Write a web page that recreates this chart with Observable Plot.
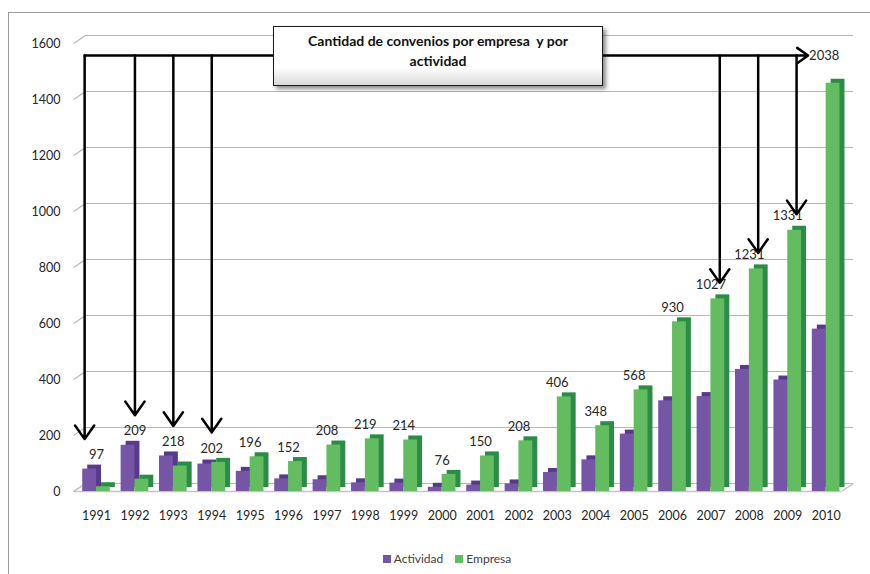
<!DOCTYPE html>
<html>
<head>
<meta charset="utf-8">
<script src="https://cdn.jsdelivr.net/npm/d3@7"></script>
<script src="https://cdn.jsdelivr.net/npm/@observablehq/plot@0.6"></script>
<style>
  html, body { margin: 0; padding: 0; background: #fff; }
  #wrap { position: relative; width: 870px; height: 574px; overflow: hidden; font-family: Lato, "Open Sans", sans-serif; }
  #frame { position: absolute; left: 8px; top: 12px; width: 880px; height: 620px; border: 1px solid #9a9a9a; box-sizing: border-box; }
  #chart { position: absolute; left: 0; top: 0; }
  #box { position: absolute; left: 273px; top: 26px; width: 330px; height: 60px; box-sizing: border-box;
         border: 1.5px solid #1a1a1a; background: linear-gradient(#ffffff 70%, #d9d9d9);
         box-shadow: 3px 3px 4px rgba(0,0,0,0.45); text-align: center;
         font-weight: bold; font-size: 14px; line-height: 20px; padding-top: 4px; color: #111; }
  #legend { position: absolute; left: 0; top: 551px; width: 894px; text-align: center; font-size: 12px; color: #404040; }
  #legend span.sw { display: inline-block; width: 8px; height: 8px; margin-right: 3px; vertical-align: 0px; }
  #legend span.item { margin: 0 6px; }
</style>
</head>
<body>
<div id="wrap">
  <div id="frame"></div>
  <div id="chart"></div>
  <div id="box">Cantidad de convenios por empresa&nbsp; y por<br>actividad</div>
  <div id="legend"></div>
</div>
<script>
const years = [1991,1992,1993,1994,1995,1996,1997,1998,1999,2000,2001,2002,2003,2004,2005,2006,2007,2008,2009,2010];
const actividad = [80,165,127,98,72,45,42,31,30,15,23,27,68,113,205,324,339,436,398,580];
const empresa = [17,44,91,104,124,107,166,188,184,61,127,181,338,235,363,606,688,795,933,1458];
const totals = [97,209,218,202,196,152,208,219,214,76,150,208,406,348,568,930,1027,1231,1331,2038];
const yTicks = [0,200,400,600,800,1000,1200,1400,1600];
const seriesNames = ["Actividad","Empresa"];
const arrowYears = [1991,1992,1993,1994,2007,2008,2009];
const annotationLevel = 1557;

const colors = {Actividad: "#7654a6", Empresa: "#63bd60"};
const sideColors = {Actividad: "#593a8a", Empresa: "#2a8c45"};

const rows = years.map((year, i) => ({year, actividad: actividad[i], empresa: empresa[i], total: totals[i],
  top: Math.max(actividad[i], empresa[i])}));
const yMax = yTicks[yTicks.length - 1];
const xMin = 1990.4, xMax = 2010.4;
const barW = 0.36;
const depthX = 0.3125, depthY = 28.6;
const grid = "#b8b8b8";
const arrowX = d => d.year + (d.year === arrowYears[0] ? -0.31 : d.year < 2000 ? 0 : 0.23);
const arrowStyle = {stroke: "#000", strokeWidth: 2.5, headLength: 10, headAngle: 70};

const plot = Plot.plot({
  width: 870,
  height: 545,
  marginLeft: 73,
  marginRight: 29,
  marginTop: 43,
  marginBottom: 54,
  style: {fontFamily: "Lato, 'Open Sans', sans-serif", fontSize: "12px", color: "#262626", background: "transparent"},
  x: {type: "linear", domain: [xMin, xMax]},
  y: {domain: [0, yMax]},
  marks: [
    // back-wall gridlines
    Plot.ruleY(yTicks, {dx: 12, dy: -8, stroke: grid, strokeWidth: 1.2}),
    // diagonal tick connectors
    Plot.link(yTicks, {x1: () => xMin, y1: d => d, x2: () => xMin + depthX, y2: d => d + depthY, stroke: grid, strokeWidth: 1.2}),
    // floor
    Plot.ruleY([0], {stroke: "#c4c4c4", strokeWidth: 1.6}),
    Plot.link([xMin, xMax], {x1: d => d, y1: 0, x2: d => d + depthX, y2: depthY, stroke: "#c4c4c4", strokeWidth: 1.4}),
    // Actividad bars (3D side/top then front)
    Plot.rectY(rows, {x1: d => d.year - barW, x2: d => d.year, y1: 0, y2: "actividad", fill: sideColors.Actividad, dx: 5, dy: -4}),
    Plot.rectY(rows, {x1: d => d.year - barW, x2: d => d.year, y1: 0, y2: "actividad", fill: colors.Actividad}),
    // Empresa bars
    Plot.rectY(rows, {x1: d => d.year, x2: d => d.year + barW, y1: 0, y2: "empresa", fill: sideColors.Empresa, dx: 5, dy: -4}),
    Plot.rectY(rows, {x1: d => d.year, x2: d => d.year + barW, y1: 0, y2: "empresa", fill: colors.Empresa}),
    // total labels
    Plot.text(rows.filter(d => d.total <= yMax), {x: "year", y: "top", text: d => String(d.total), dy: -14, fontSize: 13, fill: "#262626"}),
    Plot.text(rows.filter(d => d.total > yMax), {x: d => d.year - 0.47, y: () => annotationLevel, text: d => String(d.total), textAnchor: "start", dx: 1, fontSize: 13, fill: "#262626"}),
    // annotation arrows
    Plot.arrow(rows.filter(d => d.total > yMax), {x1: () => arrowYears[0] - 0.31, x2: d => d.year - 0.47, y1: () => annotationLevel, y2: () => annotationLevel, stroke: "#000", strokeWidth: 2.5, headLength: 8, headAngle: 70}),
    Plot.arrow(rows.filter(d => arrowYears.includes(d.year) && d.year < 2000), {
      x: arrowX, y1: () => annotationLevel, y2: "top", insetEnd: 30, ...arrowStyle}),
    Plot.arrow(rows.filter(d => arrowYears.includes(d.year) && d.year >= 2000), {
      x: arrowX, y1: () => annotationLevel, y2: "top", insetEnd: 16, ...arrowStyle}),
    // axes
    Plot.axisY(yTicks, {tickSize: 0, tickPadding: 13, fontSize: 12.5, fill: "#262626", label: null, tickFormat: d => String(d)}),
    Plot.axisX(years, {tickSize: 0, tickPadding: 20, fontSize: 12.5, fill: "#262626", tickFormat: d => String(d), label: null})
  ]
});
document.getElementById("chart").appendChild(plot);

const legend = document.getElementById("legend");
legend.innerHTML = seriesNames.map(n => `<span class="item"><span class="sw" style="background:${colors[n]}"></span>${n}</span>`).join("");
</script>
</body>
</html>
